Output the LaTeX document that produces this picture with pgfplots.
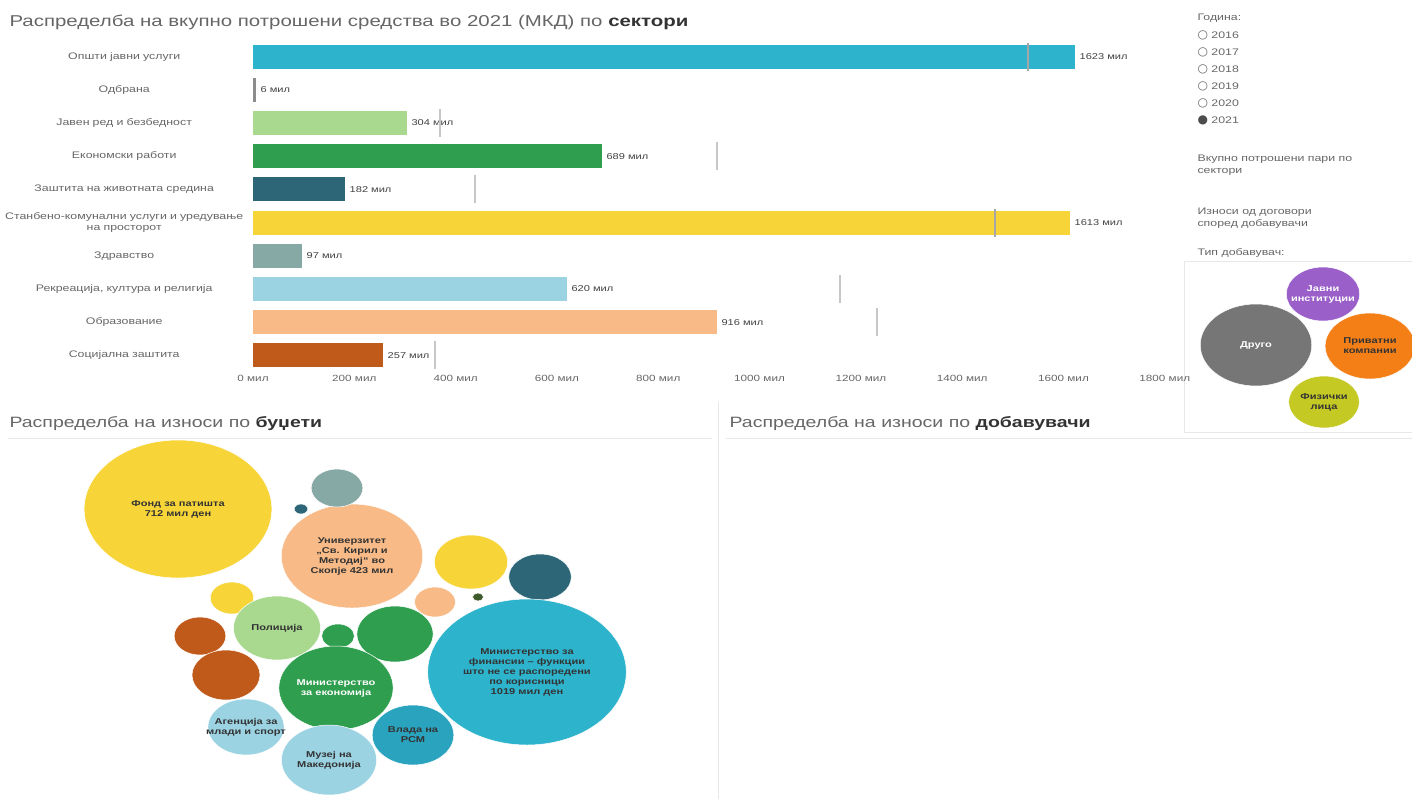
\documentclass[border=0pt]{standalone}
\usepackage{fontspec}
\setmainfont{Liberation Sans}[FakeStretch=1.3]
\newfontfamily\symfont{DejaVu Sans}
\usepackage{pgfplots}
\pgfplotsset{compat=1.18}

\definecolor{cCyan}{HTML}{2DB3CC}
\definecolor{cCyanD}{HTML}{2AA3BE}
\definecolor{cGrey}{HTML}{8C8C8C}
\definecolor{cLGreen}{HTML}{A8D98F}
\definecolor{cGreen}{HTML}{2F9E4F}
\definecolor{cDTeal}{HTML}{2C6677}
\definecolor{cYel}{HTML}{F7D538}
\definecolor{cGTeal}{HTML}{86A9A6}
\definecolor{cLBlue}{HTML}{9BD3E3}
\definecolor{cPeach}{HTML}{F8BA86}
\definecolor{cDOrange}{HTML}{C05A1A}
\definecolor{cOlive}{HTML}{3F5A2A}
\definecolor{cPurple}{HTML}{9A5FC9}
\definecolor{cOrange}{HTML}{F57F17}
\definecolor{cLime}{HTML}{C4C923}
\definecolor{cDGrey}{HTML}{767676}
\definecolor{txt}{HTML}{666666}
\definecolor{sep}{HTML}{E8E8E8}

\begin{document}
\begin{tikzpicture}[x=1pt,y=1pt]
\path[use as bounding box] (0,0) rectangle (1412,-799);

% titles
\node[anchor=west, font=\fontsize{15.7}{18}\selectfont, text=txt] at (6,-22)
  {Распределба на вкупно потрошени средства во 2021 (МКД) по \textcolor{black!80}{\textbf{сектори}}};
\node[anchor=west, font=\fontsize{15}{18}\selectfont, text=txt] at (6,-424)
  {Распределба на износи по \textcolor{black!80}{\textbf{буџети}}};
\node[anchor=west, font=\fontsize{15}{18}\selectfont, text=txt] at (726,-424)
  {Распределба на износи по \textcolor{black!80}{\textbf{добавувачи}}};

% panel separators
\draw[sep, line width=1pt] (718,-402) -- (718,-799);
\draw[sep, line width=1pt] (8,-438) -- (712,-438);
\draw[sep, line width=1pt] (726,-438) -- (1412,-438);
\draw[sep, line width=1pt] (1184,-262) -- (1184,-432) -- (1412,-432);
\draw[sep, line width=1pt] (1184,-262) -- (1412,-262);

% filter panel
\begin{scope}[every node/.style={anchor=west, font=\fontsize{9.5}{12}\selectfont, text=txt}]
\node at (1194,-18) {Година:};
\node at (1194,-35) {{\symfont\fontsize{12}{12}\selectfont ○}\ 2016};
\node at (1194,-52) {{\symfont\fontsize{12}{12}\selectfont ○}\ 2017};
\node at (1194,-69) {{\symfont\fontsize{12}{12}\selectfont ○}\ 2018};
\node at (1194,-86) {{\symfont\fontsize{12}{12}\selectfont ○}\ 2019};
\node at (1194,-103) {{\symfont\fontsize{12}{12}\selectfont ○}\ 2020};
\node at (1194,-120) {{\symfont\fontsize{12}{12}\selectfont\textcolor{black!70}{●}}\ 2021};
\node[align=left] at (1194,-165) {Вкупно потрошени пари по\\сектори};
\node[align=left] at (1194,-218) {Износи од договори\\според добавувачи};
\node at (1194,-253) {Тип добавувач:};
\end{scope}

% bar chart
\begin{axis}[
  at={(253pt,-372pt)}, anchor=south west,
  scale only axis, width=927pt, height=332pt,
  xbar, bar width=24pt, bar shift=0pt,
  xmin=0, xmax=1830, ymin=-0.5, ymax=9.5, y dir=reverse,
  axis line style={draw=none}, tick style={draw=none},
  xtick={0,200,400,600,800,1000,1200,1400,1600,1800},
  xticklabels={0 мил,200 мил,400 мил,600 мил,800 мил,1000 мил,1200 мил,1400 мил,1600 мил,1800 мил},
  xticklabel style={font=\fontsize{9}{11}\selectfont, text=txt},
  ytick={0,...,9},
  yticklabels={Општи јавни услуги,Одбрана,Јавен ред и безбедност,Економски работи,
    Заштита на животната средина,Станбено-комунални услуги и уредување\\на просторот,
    Здравство,{Рекреација, култура и религија},Образование,Социјална заштита},
  yticklabel style={font=\fontsize{9.5}{11}\selectfont, text=txt, text width=242pt, align=center},
  clip=false,
  bv/.style={fill=#1, draw=none,
    nodes near coords={\pgfmathprintnumber[fixed,precision=0,1000 sep={},assume math mode=true]{\pgfplotspointmeta}~мил},
    every node near coord/.append style={font=\fontsize{8.5}{10}\selectfont, text=black!75, xshift=1pt}},
  tg/.style={only marks, mark=|, mark size=14pt, mark options={draw=#1, line width=1.6pt}},
]
\addplot[bv=cCyan] coordinates {(1623,0)};
\addplot[bv=cGrey] coordinates {(6,1)};
\addplot[bv=cLGreen] coordinates {(304,2)};
\addplot[bv=cGreen] coordinates {(689,3)};
\addplot[bv=cDTeal] coordinates {(182,4)};
\addplot[bv=cYel] coordinates {(1613,5)};
\addplot[bv=cGTeal] coordinates {(97,6)};
\addplot[bv=cLBlue] coordinates {(620,7)};
\addplot[bv=cPeach] coordinates {(916,8)};
\addplot[bv=cDOrange] coordinates {(257,9)};
% previous year markers
\addplot[tg=black!35] coordinates {(1530,0) (1465,5)};
\addplot[tg=black!22] coordinates {(369,2) (916,3) (438,4) (1159,7) (1232,8) (359,9)};
\end{axis}

% bubble charts, axis units equal to picture pixels
\begin{axis}[
  at={(0pt,0pt)}, anchor=north west,
  scale only axis, width=1412pt, height=799pt,
  xmin=0, xmax=1412, ymin=0, ymax=799, y dir=reverse,
  hide axis, clip=false,
  bub/.style 2 args={only marks, mark=*, mark size=#2pt,
    mark options={fill=#1, draw=white, line width=0.5pt, xscale=1.36}},
  every node near coord/.append style={anchor=center, align=center,
    font=\fontsize{8.5}{10}\selectfont\bfseries, text=black!80},
]
\addplot[bub={cYel}{69}, nodes near coords={Фонд за патишта\\712 мил ден}] coordinates {(178,509)};
\addplot[bub={cYel}{16}] coordinates {(232,598)};
\addplot[bub={cPeach}{52}, nodes near coords={Универзитет\\„Св. Кирил и\\Методиј“ во\\Скопје 423 мил}] coordinates {(352,556)};
\addplot[bub={cYel}{27}] coordinates {(471,562)};
\addplot[bub={cPeach}{15}] coordinates {(435,602)};
\addplot[bub={cDTeal}{23}] coordinates {(540,577)};
\addplot[bub={cOlive}{4}] coordinates {(478,597)};
\addplot[bub={cGTeal}{19}] coordinates {(337,488)};
\addplot[bub={cDTeal}{5}] coordinates {(301,509)};
\addplot[bub={cDOrange}{19}] coordinates {(200,636)};
\addplot[bub={cDOrange}{25}] coordinates {(226,675)};
\addplot[bub={cLGreen}{32}, nodes near coords={Полиција}] coordinates {(277,628)};
\addplot[bub={cGreen}{12}] coordinates {(338,636)};
\addplot[bub={cGreen}{28}] coordinates {(395,634)};
\addplot[bub={cGreen}{42}, nodes near coords={Министерство\\за економија},
  every node near coord/.append style={text=white}] coordinates {(336,688)};
\addplot[bub={cCyan}{73}, nodes near coords={Министерство за\\финансии – функции\\што не се распоредени\\по корисници\\1019 мил ден}] coordinates {(527,672)};
\addplot[bub={cLBlue}{28}, nodes near coords={Агенција за\\млади и спорт}] coordinates {(246,727)};
\addplot[bub={cCyanD}{30}, nodes near coords={Влада на\\РСМ}] coordinates {(413,735)};
\addplot[bub={cLBlue}{35}, nodes near coords={Музеј на\\Македонија}] coordinates {(329,760)};
% supplier types
\addplot[bub={cDGrey}{41}, nodes near coords={Друго},
  every node near coord/.append style={text=white}] coordinates {(1256,345)};
\addplot[bub={cPurple}{27}, nodes near coords={Јавни\\институции},
  every node near coord/.append style={text=white}] coordinates {(1323,294)};
\addplot[bub={cOrange}{33}, nodes near coords={Приватни\\компании}] coordinates {(1370,346)};
\addplot[bub={cLime}{26}, nodes near coords={Физички\\лица}] coordinates {(1324,402)};
\end{axis}
\end{tikzpicture}
\end{document}
